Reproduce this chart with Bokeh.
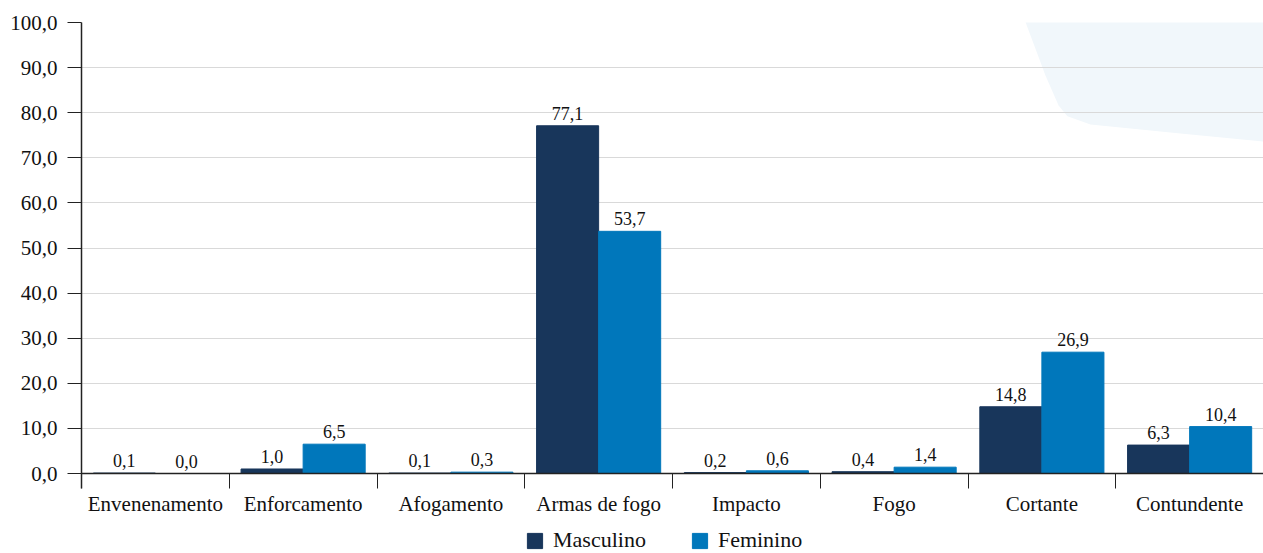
from bokeh.plotting import figure
from bokeh.models import (ColumnDataSource, Range1d, FixedTicker, CustomJSTickFormatter,
                          Legend, LegendItem, LabelSet)
from bokeh.embed import file_html
from bokeh.resources import INLINE

categories = ["Envenenamento", "Enforcamento", "Afogamento", "Armas de fogo",
              "Impacto", "Fogo", "Cortante", "Contundente"]
masculino = [0.1, 1.0, 0.1, 77.1, 0.2, 0.4, 14.8, 6.3]
feminino = [0.0, 6.5, 0.3, 53.7, 0.6, 1.4, 26.9, 10.4]
series_names = ["Masculino", "Feminino"]
y_ticks = [0, 10, 20, 30, 40, 50, 60, 70, 80, 90, 100]

# decorative background shape (top-right corner)
deco_x = [6.335, 6.423, 6.525, 6.613, 6.673, 6.829, 7.100, 7.438, 8.0, 8.0]
deco_y = [104.9, 97.1, 88.2, 81.6, 79.2, 77.4, 76.5, 75.4, 73.6, 104.9]

FONT = "Liberation Serif"
C_M = "#18365b"
C_F = "#0077bb"

n = len(categories)
bw = 0.42

# layout: value axis 0..100 occupies 451 px; frame extends 80 px below zero
PX_PER_UNIT = 451 / 100
Y_BOTTOM = -80 / PX_PER_UNIT

def fmt(v):
    return f"{v:.1f}".replace(".", ",")

centers = [i + 0.5 for i in range(n)]
src_m = ColumnDataSource(dict(x=[c - bw / 2 for c in centers], top=masculino,
                              lab=[fmt(v) for v in masculino]))
src_f = ColumnDataSource(dict(x=[c + bw / 2 for c in centers], top=feminino,
                              lab=[fmt(v) for v in feminino]))

p = figure(frame_width=1182, frame_height=531, x_range=Range1d(0, n),
           y_range=Range1d(Y_BOTTOM, 100),
           output_backend="svg", toolbar_location=None,
           min_border_left=81, min_border_right=0, min_border_top=22, min_border_bottom=0)
p.outline_line_color = None
p.background_fill_color = "white"
p.border_fill_color = "white"

deco = p.patch(deco_x, deco_y, fill_color="#f1f7fb", line_color=None)
deco.level = "image"

rm = p.vbar(x="x", top="top", bottom=0, width=bw, source=src_m, fill_color=C_M, line_color=C_M)
rf = p.vbar(x="x", top="top", bottom=0, width=bw, source=src_f, fill_color=C_F, line_color=C_F)

for src in (src_m, src_f):
    p.add_layout(LabelSet(x="x", y="top", text="lab", source=src, text_align="center",
                          text_baseline="bottom", y_offset=6, text_font=FONT,
                          text_font_size="18px", text_color="#111"))

# x axis, pinned at value 0
xa = p.xaxis[0]
xa.axis_label = None
xa.fixed_location = 0
xa.ticker = FixedTicker(ticks=centers, minor_ticks=list(range(n + 1)))
xa.formatter = CustomJSTickFormatter(args=dict(cats=categories),
                                     code="return cats[Math.round(tick - 0.5)] || '';")
xa.major_tick_line_color = None
xa.major_tick_out = 15
xa.major_tick_in = 0
xa.minor_tick_out = 15
xa.minor_tick_in = 0
xa.minor_tick_line_color = "#222"
xa.axis_line_color = "#222"
xa.axis_line_width = 1.5
xa.major_label_standoff = 3
xa.major_label_text_font = FONT
xa.major_label_text_font_size = "21px"
xa.major_label_text_color = "#111"

# y axis
ya = p.yaxis[0]
ya.axis_label = None
ya.bounds = (-15 / PX_PER_UNIT, 100)
ya.ticker = FixedTicker(ticks=y_ticks, minor_ticks=[])
ya.formatter = CustomJSTickFormatter(code="return tick.toFixed(1).replace('.', ',');")
ya.major_tick_out = 14
ya.major_tick_in = 0
ya.major_tick_line_color = "#222"
ya.axis_line_color = "#222"
ya.axis_line_width = 1.5
ya.major_label_standoff = 10
ya.major_label_text_font = FONT
ya.major_label_text_font_size = "21px"
ya.major_label_text_color = "#111"

p.xgrid.grid_line_color = None
p.ygrid.ticker = FixedTicker(ticks=y_ticks)
p.ygrid.grid_line_color = "#d9d9d9"
p.ygrid.grid_line_width = 1

legend = Legend(items=[LegendItem(label=series_names[0], renderers=[rm]),
                       LegendItem(label=series_names[1], renderers=[rf])],
                orientation="horizontal", location=(444, 0),
                glyph_width=19, glyph_height=19, label_height=19,
                label_standoff=9, spacing=44, padding=0, margin=0,
                border_line_color=None, background_fill_alpha=0,
                label_text_font=FONT, label_text_font_size="22px",
                label_text_color="#111")
p.add_layout(legend, "center")

open("out.html", "w").write(file_html(p, INLINE))
